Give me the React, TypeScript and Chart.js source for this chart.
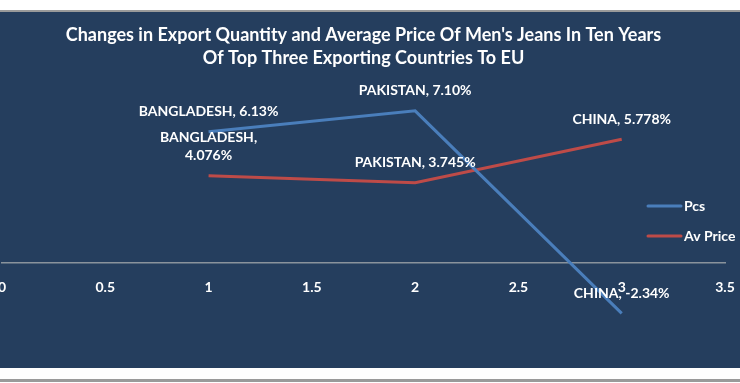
import React, { useEffect, useRef } from "react";
import { Chart, registerables } from "chart.js";

Chart.register(...registerables);

const titleLines = [
  "Changes in Export Quantity and Average Price Of Men's Jeans In Ten Years",
  "Of Top Three Exporting Countries To EU",
];
const countries = ["BANGLADESH", "PAKISTAN", "CHINA"];
const xPositions = [1, 2, 3];
const pcsValues = [6.13, 7.1, -2.34];
const avPriceValues = [4.076, 3.745, 5.778];
const pcsLabels = ["6.13%", "7.10%", "-2.34%"];
const avPriceLabels = ["4.076%", "3.745%", "5.778%"];
const xTicks = [0, 0.5, 1, 1.5, 2, 2.5, 3, 3.5];

const BG = "#253e5e";
const FONT = "Lato, 'Open Sans', sans-serif";

export default function App() {
  const ref = useRef<HTMLCanvasElement>(null);

  useEffect(() => {
    document.body.style.margin = "0";
    const canvas = ref.current!;

    const bgPlugin = {
      id: "bgPlugin",
      beforeDraw(chart: any) {
        const { ctx, width, height } = chart;
        ctx.save();
        ctx.fillStyle = "#ffffff";
        ctx.fillRect(0, 0, width, height);
        ctx.fillStyle = "#9a9a9a";
        ctx.fillRect(0, 10, width, 2);
        ctx.fillRect(0, 379, width, 3);
        ctx.fillStyle = BG;
        ctx.fillRect(0, 12, width, 356);
        ctx.restore();
      },
    };

    const labelPlugin = {
      id: "labelPlugin",
      afterDatasetsDraw(chart: any) {
        const { ctx } = chart;
        ctx.save();
        ctx.fillStyle = "#ffffff";
        ctx.font = `bold 14px ${FONT}`;
        ctx.textAlign = "center";
        ctx.textBaseline = "middle";
        chart.data.datasets.forEach((ds: any, di: number) => {
          const meta = chart.getDatasetMeta(di);
          meta.data.forEach((pt: any, i: number) => {
            const lines: string[] = ds.pointLabels[i];
            const n = lines.length;
            lines.forEach((line, li) => {
              ctx.fillText(line, pt.x, pt.y - 20 - (n - 1 - li) * 18);
            });
          });
        });
        // legend
        const items = chart.data.datasets.map((d: any) => ({ label: d.label, color: d.borderColor }));
        ctx.textAlign = "left";
        items.forEach((it: any, k: number) => {
          const y = 206 + k * 30;
          ctx.strokeStyle = it.color;
          ctx.lineWidth = 3;
          ctx.lineCap = "round";
          ctx.beginPath();
          ctx.moveTo(648, y);
          ctx.lineTo(681, y);
          ctx.stroke();
          ctx.fillText(it.label, 684, y);
        });
        ctx.restore();
      },
    };

    const chart = new Chart(canvas, {
      type: "line",
      data: {
        datasets: [
          {
            label: "Pcs",
            data: xPositions.map((x, i) => ({ x, y: pcsValues[i] })),
            borderColor: "#4a7ebb",
            borderWidth: 3,
            pointRadius: 0,
            tension: 0,
            pointLabels: countries.map((c, i) => [`${c}, ${pcsLabels[i]}`]),
          } as any,
          {
            label: "Av Price",
            data: xPositions.map((x, i) => ({ x, y: avPriceValues[i] })),
            borderColor: "#be4b48",
            borderWidth: 3,
            pointRadius: 0,
            tension: 0,
            pointLabels: countries.map((c, i) =>
              i === 0 ? [`${c},`, avPriceLabels[i]] : [`${c}, ${avPriceLabels[i]}`]
            ),
          } as any,
        ],
      },
      options: {
        animation: false,
        responsive: false,
        maintainAspectRatio: false,
        layout: { padding: { left: 2, right: 15, top: 0, bottom: 34 } },
        plugins: {
          legend: { display: false },
          tooltip: { enabled: false },
          title: {
            display: true,
            text: titleLines,
            color: "#ffffff",
            font: { family: FONT, size: 18, weight: "bold", lineHeight: 1.28 },
            padding: { top: 24, bottom: 0 },
          },
        },
        scales: {
          x: {
            type: "linear",
            min: 0,
            max: 3.5,
            position: { y: 0 } as any,
            afterBuildTicks: (axis: any) => {
              axis.ticks = xTicks.map((v) => ({ value: v }));
            },
            afterFit: (axis: any) => {
              axis.paddingLeft = 0;
              axis.paddingRight = 0;
            },
            grid: { display: false, drawTicks: false },
            border: { display: true, color: "#8a939c", width: 1.5 },
            ticks: {
              color: "#ffffff",
              font: { family: FONT, size: 14, weight: "bold" },
              padding: 16,
              maxRotation: 0,
              autoSkip: false,
              callback: (v: any) => String(v),
            },
          },
          y: {
            type: "linear",
            min: -4,
            max: 9,
            display: false,
          },
        },
      },
      plugins: [bgPlugin, labelPlugin],
    });

    return () => chart.destroy();
  }, []);

  return <canvas ref={ref} width={740} height={383} style={{ display: "block" }} />;
}
